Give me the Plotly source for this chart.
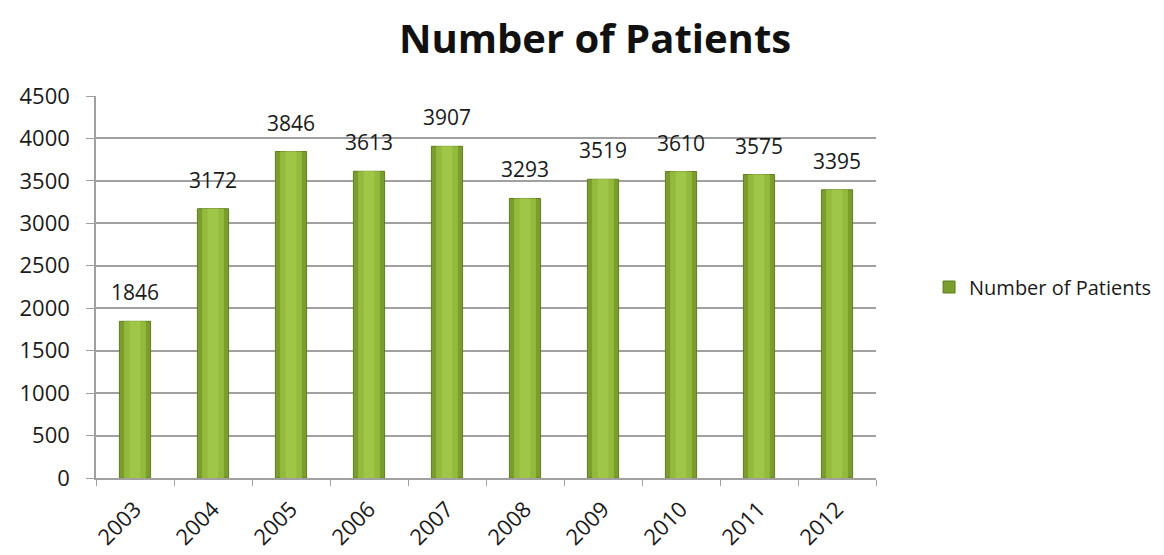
import plotly.graph_objects as go

years = ["2003", "2004", "2005", "2006", "2007", "2008", "2009", "2010", "2011", "2012"]
patients = [1846, 3172, 3846, 3613, 3907, 3293, 3519, 3610, 3575, 3395]
y_ticks = [0, 500, 1000, 1500, 2000, 2500, 3000, 3500, 4000, 4500]

font = "Open Sans"

fig = go.Figure()
fig.add_trace(go.Bar(
    x=years, y=patients, name="Number of Patients",
    width=0.4,
    marker=dict(color="#7a9d2c", line=dict(color="#5f7d1f", width=1)),
))
fig.add_trace(go.Bar(
    x=years, y=patients, name="hl",
    width=0.28, showlegend=False, hoverinfo="skip",
    marker=dict(color="#93b93d", line=dict(width=0)),
))
fig.add_trace(go.Bar(
    x=years, y=patients, name="hl2",
    width=0.14, showlegend=False, hoverinfo="skip",
    marker=dict(color="#a0c648", line=dict(width=0)),
))

# category axis: annotations placed by category index
for i, v in enumerate(patients):
    fig.add_annotation(x=i, y=v, text=str(v), showarrow=False,
                       xref="x", yref="y",
                       yanchor="bottom", yshift=13,
                       font=dict(size=21, color="#1a1a1a", family=font))

fig.update_layout(
    width=1164, height=555,
    margin=dict(l=96, r=288, t=96, b=77, autoexpand=False),
    paper_bgcolor="white", plot_bgcolor="white",
    barmode="overlay",
    title=dict(text="<b>Number of Patients</b>", x=595/1164, xanchor="center",
               y=0.93, yanchor="middle",
               font=dict(size=40, family=font, color="#111111")),
    legend=dict(x=1.068, y=0.5, xanchor="left", yanchor="middle",
                itemwidth=30,
                font=dict(size=20, family=font, color="#1a1a1a")),
    showlegend=True,
    font=dict(family=font),
)
fig.update_yaxes(range=[0, 4500], tickvals=y_ticks, showgrid=True,
                 gridcolor="#a0a0a0", gridwidth=1.5,
                 showline=True, linecolor="#a0a0a0", linewidth=1.5,
                 ticks="outside", ticklen=8, tickcolor="#a0a0a0",
                 ticklabelstandoff=12,
                 tickfont=dict(size=22, color="#1a1a1a", family=font),
                 zeroline=False)
fig.update_xaxes(type="category", categoryorder="array", categoryarray=years,
                 range=[-0.5, len(years) - 0.5],
                 tickangle=-45, showline=True, linecolor="#a0a0a0", linewidth=1.5,
                 ticks="outside", ticklen=6, tickcolor="#a0a0a0",
                 tickson="boundaries", ticklabelstandoff=8,
                 tickfont=dict(size=22, color="#1a1a1a", family=font))

fig.write_html("out.html")
